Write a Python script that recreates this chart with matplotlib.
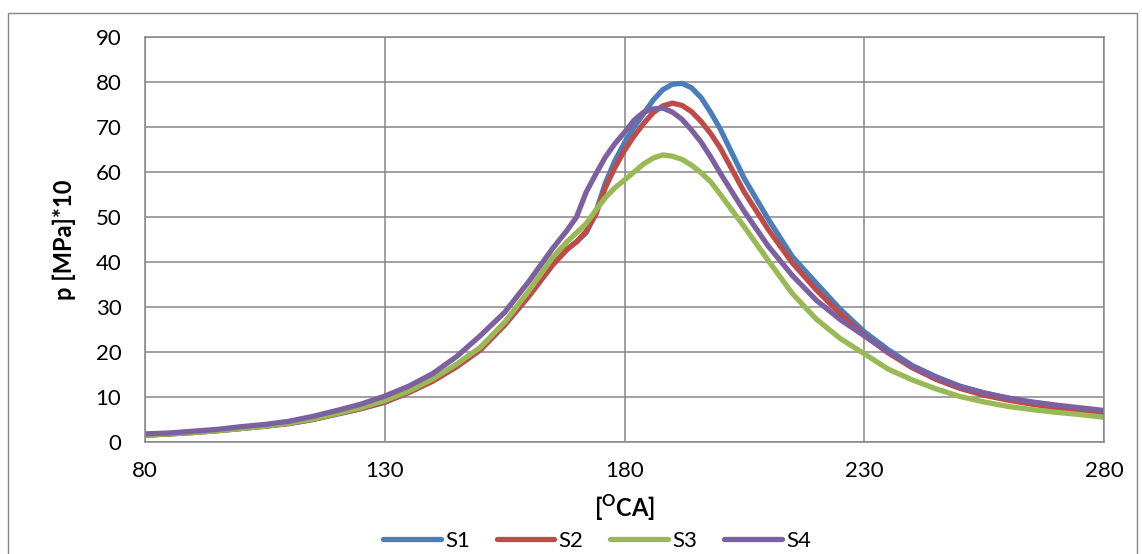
import matplotlib
matplotlib.use("Agg")
import matplotlib.pyplot as plt
from matplotlib.patches import Rectangle

plt.rcParams['font.family'] = ['Lato', 'DejaVu Sans']
plt.rcParams['mathtext.fontset'] = 'custom'
plt.rcParams['mathtext.rm'] = 'Lato'
plt.rcParams['mathtext.bf'] = 'Lato:bold'

x = [80, 85, 90, 95, 100, 105, 110, 115, 120, 125, 130, 135, 140, 145, 150, 155, 160, 165,
     168, 170, 172, 174, 176, 178, 180, 182, 184, 186, 188, 190, 192, 194, 196, 198, 200,
     205, 210, 215, 220, 225, 230, 235, 240, 245, 250, 255, 260, 265, 270, 275, 280]

s1 = [1.5, 1.8, 2.1, 2.5, 3.0, 3.5, 4.1, 5.0, 6.2, 7.4, 8.8, 11.0, 13.6, 16.8, 20.6, 26.0, 32.5, 39.5,
      42.8, 44.5, 46.5, 51.0, 57.5, 62.5, 66.5, 70.0, 73.0, 76.0, 78.3, 79.5, 79.7, 78.7, 76.5, 73.2, 69.5,
      58.5, 49.5, 41.2, 35.3, 29.5, 24.5, 20.5, 17.0, 14.5, 12.4, 10.9, 9.7, 8.8, 8.0, 7.3, 6.6]

s2 = [1.5, 1.8, 2.1, 2.5, 3.0, 3.5, 4.1, 5.0, 6.2, 7.4, 8.9, 11.0, 13.5, 16.7, 20.5, 26.0, 32.3, 39.3,
      42.8, 44.5, 46.8, 50.5, 56.5, 61.0, 64.8, 68.0, 70.8, 73.2, 74.7, 75.3, 74.8, 73.4, 71.2, 68.5, 65.3,
      55.5, 47.2, 39.8, 33.8, 28.5, 23.7, 19.8, 16.5, 13.9, 11.9, 10.4, 9.3, 8.4, 7.6, 7.0, 6.4]

s3 = [1.5, 1.8, 2.1, 2.5, 3.0, 3.5, 4.2, 5.1, 6.3, 7.6, 9.2, 11.3, 14.0, 17.3, 21.1, 26.6, 33.5, 41.0,
      44.5, 46.5, 48.5, 51.5, 54.3, 56.5, 58.2, 60.0, 61.8, 63.1, 63.8, 63.5, 62.8, 61.5, 59.8, 57.8, 55.0,
      47.8, 40.3, 33.0, 27.3, 23.0, 19.6, 16.2, 13.8, 11.8, 10.1, 8.9, 7.9, 7.2, 6.6, 6.1, 5.5]

s4 = [1.8, 2.0, 2.4, 2.8, 3.4, 3.9, 4.6, 5.7, 7.0, 8.4, 10.2, 12.4, 15.2, 19.0, 23.7, 28.8, 35.6, 43.0,
      47.0, 50.0, 55.5, 59.5, 63.3, 66.3, 68.8, 71.5, 73.3, 74.0, 74.2, 73.3, 71.7, 69.3, 66.6, 63.3, 59.7,
      51.2, 43.5, 37.0, 31.5, 27.2, 23.6, 20.0, 16.8, 14.3, 12.3, 10.9, 9.8, 8.9, 8.2, 7.6, 7.0]

series_names = ['S1', 'S2', 'S3', 'S4']
colors = ['#4A7EBB', '#BE4B48', '#98B954', '#7D60A0']

xticks = [80, 130, 180, 230, 280]
yticks = [0, 10, 20, 30, 40, 50, 60, 70, 80, 90]

W, H = 1142, 554
fig = plt.figure(figsize=(W / 100, H / 100), dpi=100)
ax = fig.add_axes([145 / W, 1 - 442 / H, (1104 - 145) / W, (442 - 37) / H])

for name, ys, c in zip(series_names, [s1, s2, s3, s4], colors):
    ax.plot(x, ys, color=c, lw=3.8, label=name, solid_capstyle='round', solid_joinstyle='round')

ax.set_xlim(80, 280)
ax.set_ylim(0, 90)
ax.set_xticks(xticks)
ax.set_yticks(yticks)
ax.grid(True, color='#868686', lw=1.1)
ax.set_axisbelow(True)
for sp in ax.spines.values():
    sp.set_color('#868686')
    sp.set_linewidth(1.1)
ax.tick_params(length=0, labelsize=16)
ax.tick_params(axis='y', pad=17)
ax.tick_params(axis='x', pad=14)

ax.set_ylabel('p [MPa]*10', fontsize=17, fontweight='bold', labelpad=14)
ax.set_xlabel(r'[$^{\mathbf{O}}$CA]', fontsize=17, fontweight='bold', labelpad=8)

fig.legend(loc='center', bbox_to_anchor=(597 / W, 1 - 541 / H), ncol=4, frameon=False,
           fontsize=16, handlelength=2.6, handletextpad=0.2, columnspacing=1.2)

fig.patches.append(Rectangle((8 / W, -0.05), (1137 - 8) / W, 1.05 - 13 / H,
                             transform=fig.transFigure, fill=False, edgecolor='#868686', lw=1.0))

fig.savefig('out.png', dpi=100)
